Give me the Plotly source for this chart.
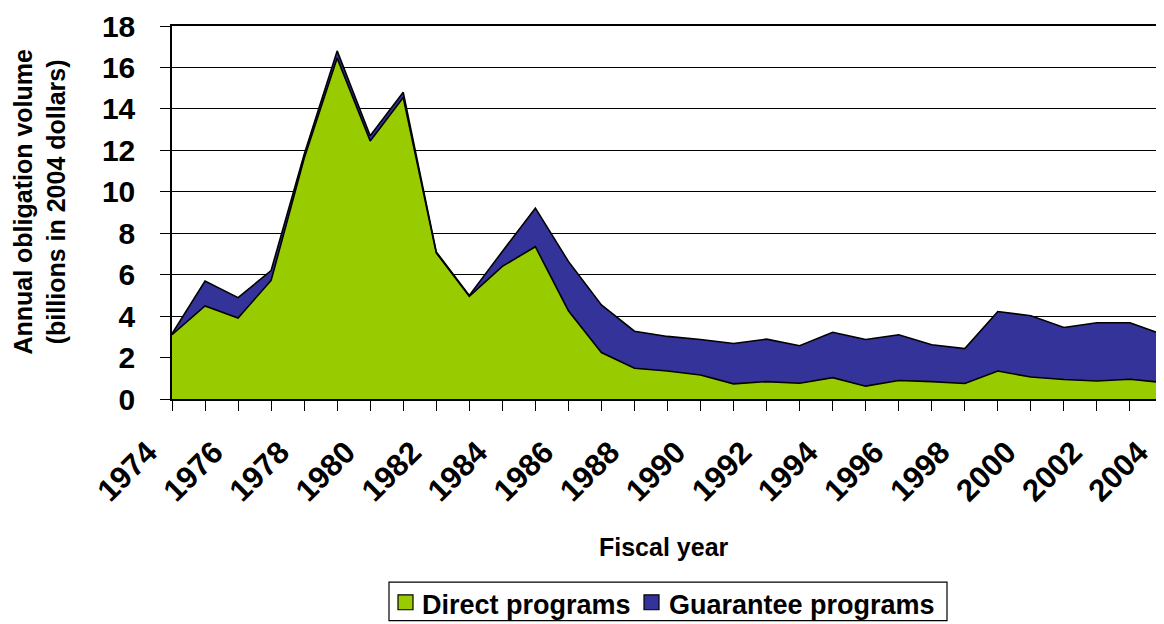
import plotly.graph_objects as go

years = list(range(1974, 2005))
direct = [3.10, 4.49, 3.91, 5.72, 11.60, 16.45, 12.45, 14.55, 7.05, 4.95,
          6.40, 7.35, 4.26, 2.24, 1.48, 1.35, 1.16, 0.73, 0.84, 0.76,
          1.03, 0.62, 0.89, 0.84, 0.75, 1.35, 1.06, 0.94, 0.87, 0.95, 0.79]
total = [3.15, 5.69, 4.89, 6.20, 11.80, 16.80, 12.70, 14.80, 7.10, 5.00,
         7.12, 9.21, 6.64, 4.54, 3.27, 3.02, 2.87, 2.68, 2.89, 2.57,
         3.22, 2.87, 3.10, 2.62, 2.43, 4.22, 4.02, 3.45, 3.68, 3.68, 3.11]
guarantee = [round(t - d, 2) for t, d in zip(total, direct)]
series_names = ["Direct programs", "Guarantee programs"]
tick_years = list(range(1974, 2005, 2))
y_ticks = list(range(0, 19, 2))

FONT = "Liberation Sans, Arial, sans-serif"
GREEN = "#99CC00"
BLUE = "#333399"

# page -> paper coordinate helpers (plot area spans x 172..1163, y 22..399 on the page)
def px(x):
    return (x - 172) / 991.0

def py(y):
    return (399 - y) / 377.0

fig = go.Figure()
fig.add_trace(go.Scatter(x=years, y=direct, name=series_names[0],
                         stackgroup="one", mode="lines",
                         line=dict(color="black", width=1.6), fillcolor=GREEN))
fig.add_trace(go.Scatter(x=years, y=guarantee, name=series_names[1],
                         stackgroup="one", mode="lines",
                         line=dict(color="black", width=1.6), fillcolor=BLUE))

shapes = [
    dict(type="rect", xref="paper", yref="paper", x0=px(389), x1=px(947),
         y0=py(623), y1=py(584), line=dict(color="black", width=1.2),
         fillcolor="white"),
    dict(type="rect", xref="paper", yref="paper", x0=px(398), x1=px(413),
         y0=py(612), y1=py(597), line=dict(color="black", width=1.2), fillcolor=GREEN),
    dict(type="rect", xref="paper", yref="paper", x0=px(644), x1=px(659),
         y0=py(612), y1=py(597), line=dict(color="black", width=1.2), fillcolor=BLUE),
]

annotations = [
    dict(text="<b>Fiscal year</b>", xref="paper", yref="paper",
         x=px(663.5), y=py(549), xanchor="center", yanchor="middle", showarrow=False,
         font=dict(family=FONT, size=25, color="black")),
    dict(text="<b>Annual obligation volume<br>(billions in 2004 dollars)</b>",
         xref="paper", yref="paper", x=px(39.5), y=py(200), xanchor="center",
         yanchor="middle", align="center", textangle=-90, showarrow=False,
         font=dict(family=FONT, size=25, color="black")),
    dict(text=f"<b>{series_names[0]}</b>", xref="paper", yref="paper",
         x=px(420), y=py(607), xanchor="left", yanchor="middle", showarrow=False,
         font=dict(family=FONT, size=27, color="black")),
    dict(text=f"<b>{series_names[1]}</b>", xref="paper", yref="paper",
         x=px(667), y=py(607), xanchor="left", yanchor="middle", showarrow=False,
         font=dict(family=FONT, size=27, color="black")),
]

fig.update_layout(
    width=1156, height=616,
    margin=dict(l=164, r=1, t=14, b=225),
    paper_bgcolor="white", plot_bgcolor="white",
    font=dict(family=FONT, color="black"),
    showlegend=False,
    xaxis=dict(range=[1974, 2004], tickmode="array", tickvals=tick_years,
               ticktext=[f"<b>{y}</b>" for y in tick_years],
               tickangle=-45, ticks="outside", ticklen=10, tickcolor="black",
               tickfont=dict(family=FONT, size=31, color="black"),
               ticklabelshift=-24, ticklabelstandoff=11,
               ticklabeloverflow="allow",
               minor=dict(dtick=1, tick0=1974, ticks="outside", ticklen=10,
                          tickcolor="black", showgrid=False),
               showline=True, linecolor="black", linewidth=1.5, mirror=True,
               showgrid=False, zeroline=False),
    yaxis=dict(range=[0, 18], tickvals=y_ticks,
               ticktext=[f"<b>{v}</b>" for v in y_ticks],
               ticks="outside", ticklen=10, tickcolor="black",
               tickfont=dict(family=FONT, size=30, color="black"),
               ticklabelstandoff=19, ticklabeloverflow="allow",
               showline=True, linecolor="black", linewidth=1.5,
               showgrid=True, gridcolor="black", gridwidth=1, zeroline=False),
    shapes=shapes,
    annotations=annotations,
)

fig.write_html("out.html")
